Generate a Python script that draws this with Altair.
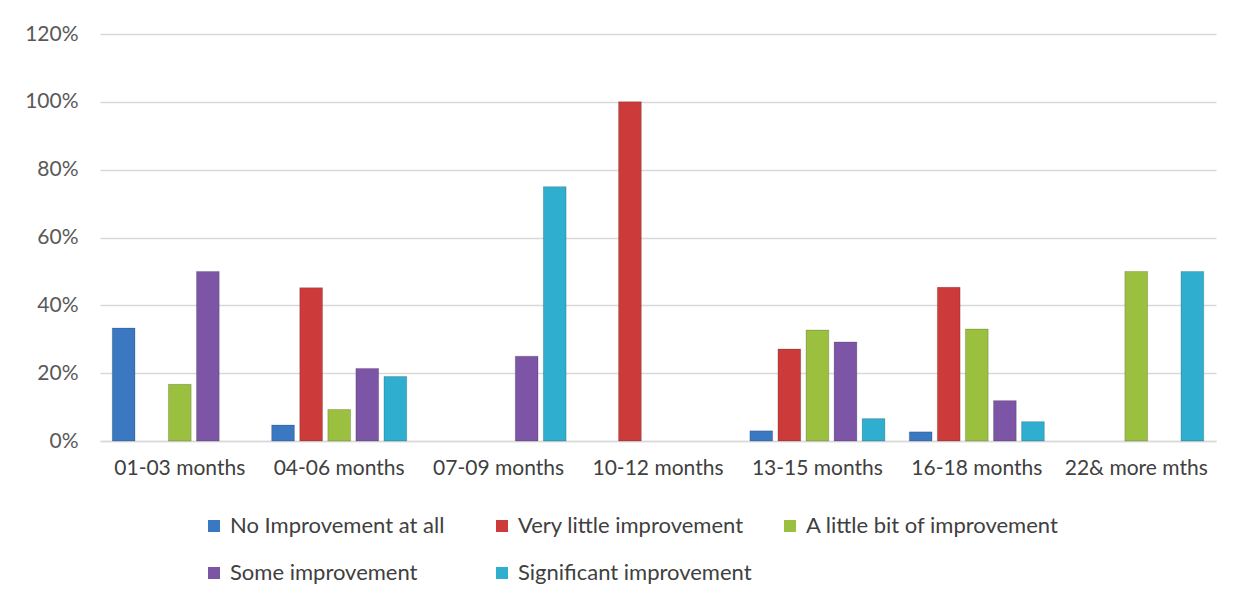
import altair as alt
import pandas as pd

categories = ["01-03 months", "04-06 months", "07-09 months", "10-12 months",
              "13-15 months", "16-18 months", "22& more mths"]
series = ["No Improvement at all", "Very little improvement", "A little bit of improvement",
          "Some improvement", "Significant improvement"]
colors = ["#3A78C2", "#CC3B3A", "#9BC03F", "#7C55A6", "#2FAECF"]

no_improvement = [0.333, 0.047, None, None, 0.03, 0.027, None]
very_little = [None, 0.452, None, 1.0, 0.271, 0.453, None]
little_bit = [0.167, 0.093, None, None, 0.327, 0.33, 0.5]
some = [0.5, 0.214, 0.25, None, 0.292, 0.119, None]
significant = [None, 0.19, 0.75, None, 0.066, 0.057, 0.5]

rows = []
for s, vals in zip(series, [no_improvement, very_little, little_bit, some, significant]):
    for c, v in zip(categories, vals):
        if v is not None:
            rows.append({"period": c, "series": s, "value": v})
df = pd.DataFrame(rows)

font = "Lato"

chart = alt.Chart(df).mark_bar(stroke="#000000", strokeOpacity=0.18, strokeWidth=1).encode(
    x=alt.X("period:N", sort=categories,
            scale=alt.Scale(domain=categories, paddingInner=0.153, paddingOuter=0.077),
            axis=alt.Axis(title=None, labelAngle=0, labelFontSize=21, labelColor="#404040",
                          labelFont=font, labelPadding=16, ticks=False, domainColor="#D9D9D9",
                          domainWidth=1.5)),
    xOffset=alt.XOffset("series:N", sort=series,
                        scale=alt.Scale(domain=series, paddingInner=0.19, paddingOuter=0)),
    y=alt.Y("value:Q",
            scale=alt.Scale(domain=[0, 1.2], nice=False),
            axis=alt.Axis(title=None, format=".0%", values=[0, 0.2, 0.4, 0.6, 0.8, 1.0, 1.2],
                          labelFontSize=21, labelColor="#595959", labelFont=font,
                          labelPadding=22, ticks=False, domain=False,
                          gridColor="#D9D9D9", gridWidth=1.5)),
    color=alt.Color("series:N", sort=series,
                    scale=alt.Scale(domain=series, range=colors),
                    legend=alt.Legend(title=None, orient="none", legendX=103, legendY=481,
                                      columns=3, direction="horizontal", gridAlign="all",
                                      symbolType="square", symbolSize=144,
                                      symbolStrokeWidth=0, labelFont=font,
                                      labelFontSize=22, labelColor="#404040",
                                      columnPadding=8, rowPadding=25, labelOffset=5,
                                      labelLimit=400)),
).properties(
    width=1116, height=407,
    autosize=alt.AutoSizeParams(type="none"),
    padding={"left": 92, "top": 26, "right": 20, "bottom": 150},
).configure(background="white").configure_view(strokeWidth=0, stroke="transparent")

chart.save("out.html", embed_options={"renderer": "svg", "actions": False})
